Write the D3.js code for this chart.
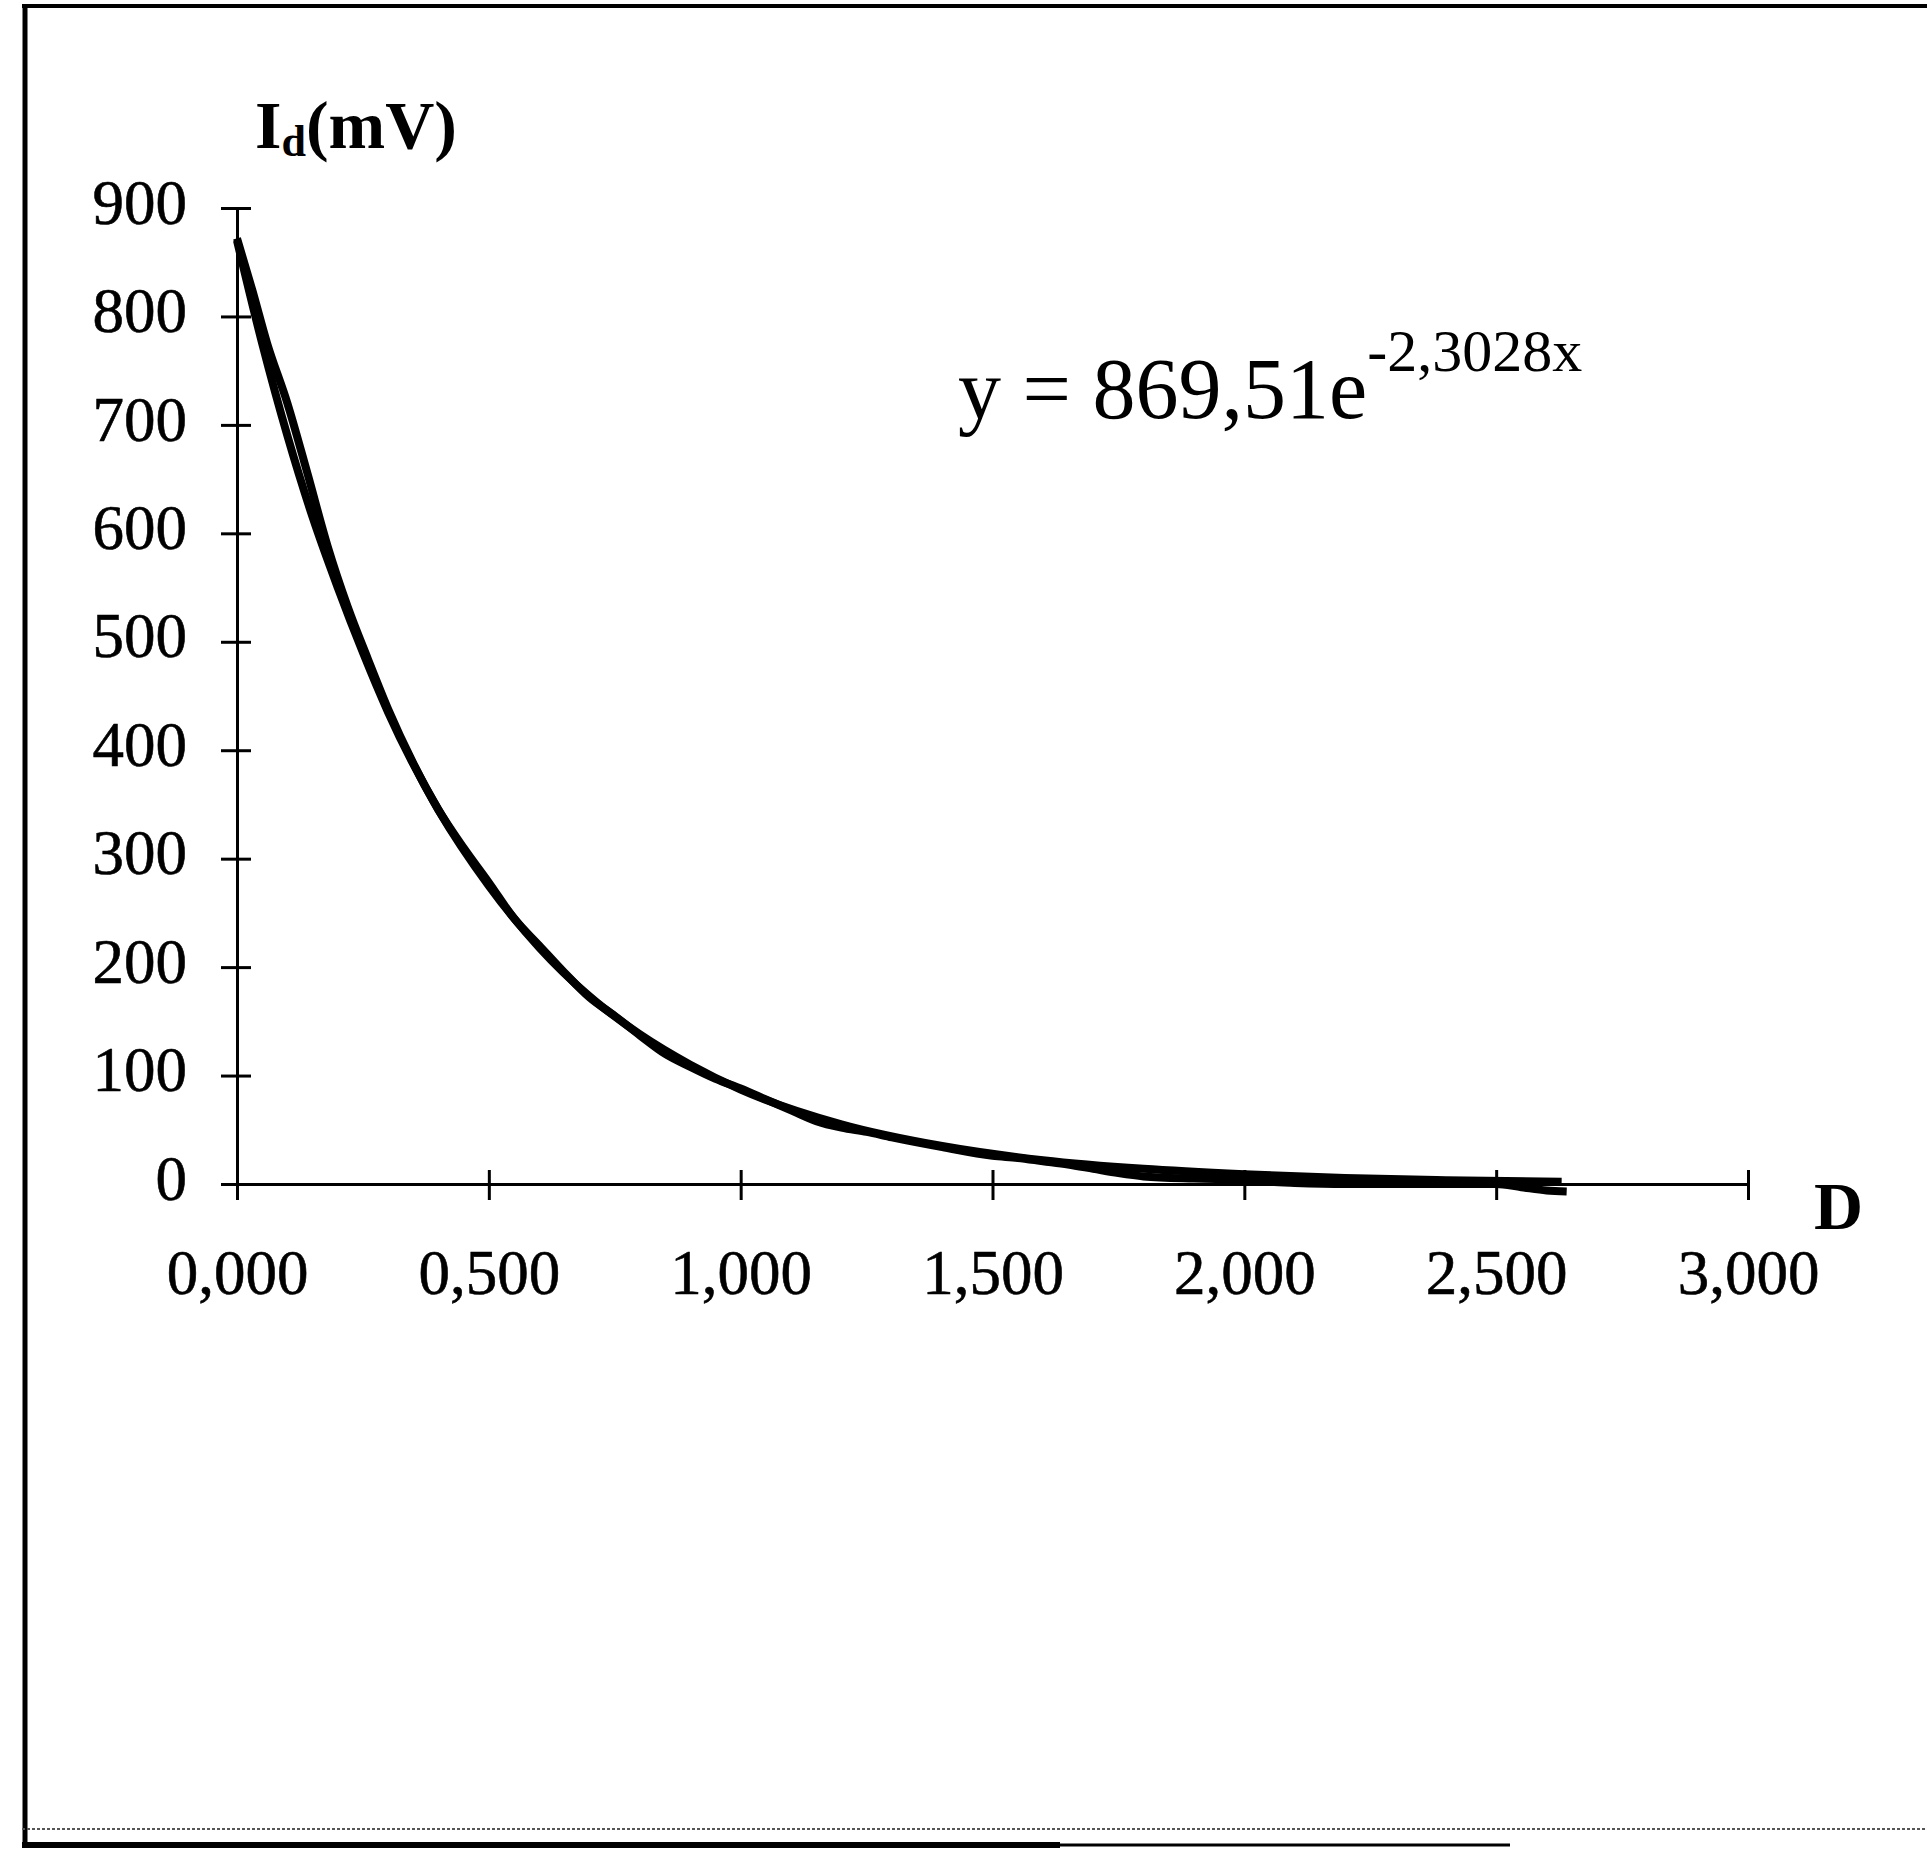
<!DOCTYPE html>
<html>
<head>
<meta charset="utf-8">
<script src="https://cdn.jsdelivr.net/npm/d3@7"></script>
<style>
  body { margin: 0; background: #fff; }
  svg { display: block; font-family: "Liberation Serif", "Times New Roman", serif; }
</style>
</head>
<body>
<svg id="chart" width="1927" height="1853"></svg>
<script>
const measD = [0.00, 0.03, 0.06, 0.10, 0.14, 0.18, 0.22, 0.26, 0.30, 0.35, 0.40, 0.45, 0.50, 0.55, 0.60, 0.65, 0.70, 0.75, 0.80, 0.85, 0.90, 0.95, 1.00, 1.05, 1.10, 1.15, 1.20, 1.25, 1.30, 1.40, 1.50, 1.55, 1.60, 1.65, 1.70, 1.75, 1.80, 1.90, 2.00, 2.05, 2.10, 2.20, 2.30, 2.40, 2.50, 2.55, 2.60, 2.64];
const measI = [872, 825, 775, 720, 655, 588, 532, 484, 438, 388, 345, 310, 278, 245, 220, 195, 172, 155, 137, 120, 108, 97, 88, 78, 68, 58, 52, 48, 43, 34, 26, 24, 21, 18, 14, 10, 7, 5, 4, 2, 1, 0, 0, 0, 0, -3, -6, -7];

// exponential trend line, also
const fitD = [0.00, 0.05, 0.10, 0.15, 0.20, 0.25, 0.30, 0.40, 0.50, 0.60, 0.70, 0.80, 0.90, 1.00, 1.20, 1.40, 1.60, 1.80, 2.00, 2.20, 2.40, 2.63];
const fitI = [870, 775, 690, 615, 550, 490, 435, 345, 275, 218, 173, 138, 110, 87, 55, 35, 22, 14, 9, 5.5, 3.5, 2];

const xTicks = [0, 0.5, 1, 1.5, 2, 2.5, 3];
const yTicks = [0, 100, 200, 300, 400, 500, 600, 700, 800, 900];

const svg = d3.select("#chart");

const x = d3.scaleLinear().domain([0, 3]).range([237, 1748]);
const y = d3.scaleLinear().domain([0, 900]).range([1184, 208]);

// page frame (scanned sheet edges)
svg.append("line").attr("x1", 25).attr("x2", 25).attr("y1", 6).attr("y2", 1848)
    .attr("stroke", "#000").attr("stroke-width", 5);
svg.append("line").attr("x1", 22).attr("x2", 1927).attr("y1", 6).attr("y2", 6)
    .attr("stroke", "#000").attr("stroke-width", 4);
svg.append("line").attr("x1", 22).attr("x2", 1927).attr("y1", 1829).attr("y2", 1829)
    .attr("stroke", "#555").attr("stroke-width", 2).attr("stroke-dasharray", "3,2");
svg.append("line").attr("x1", 22).attr("x2", 1060).attr("y1", 1845).attr("y2", 1845)
    .attr("stroke", "#000").attr("stroke-width", 6);
svg.append("line").attr("x1", 1060).attr("x2", 1510).attr("y1", 1845).attr("y2", 1845)
    .attr("stroke", "#000").attr("stroke-width", 3);

// y axis: ticks cross the line, so draw one each side
const yAxisL = svg.append("g").attr("transform", `translate(${x(0)},0)`)
    .call(d3.axisLeft(y).tickValues(yTicks).tickSize(16).tickSizeOuter(0).tickPadding(34).tickFormat(d3.format("d")));
svg.append("g").attr("transform", `translate(${x(0)},0)`)
    .call(d3.axisRight(y).tickValues(yTicks).tickSize(14).tickSizeOuter(0).tickFormat(""));

// x axis
const xAxisB = svg.append("g").attr("transform", `translate(0,${y(0)})`)
    .call(d3.axisBottom(x).tickValues(xTicks).tickSize(16).tickSizeOuter(0)
        .tickFormat(d => d3.format(".3f")(d).replace(".", ",")));
svg.append("g").attr("transform", `translate(0,${y(0)})`)
    .call(d3.axisTop(x).tickValues(xTicks).tickSize(14).tickSizeOuter(0).tickFormat(""));

svg.selectAll(".domain, .tick line").attr("stroke", "#000").attr("stroke-width", 3);

yAxisL.selectAll("text")
    .attr("font-size", 63).attr("fill", "#000")
    .attr("dy", "0.32em").attr("y", -5)
    .attr("stroke", "#000").attr("stroke-width", 0.6)
    .attr("font-family", "Liberation Serif, serif");

xAxisB.selectAll("text")
    .attr("font-size", 63).attr("fill", "#000")
    .attr("dy", 0).attr("y", 110)
    .attr("stroke", "#000").attr("stroke-width", 0.6)
    .attr("font-family", "Liberation Serif, serif");

// curves
const line = d3.line()
    .x(d => x(d[0]))
    .y(d => y(d[1]))
    .curve(d3.curveMonotoneX);

svg.append("path")
    .datum(fitD.map((d, i) => [d, fitI[i]]))
    .attr("d", line)
    .attr("fill", "none").attr("stroke", "#000").attr("stroke-width", 8);

svg.append("path")
    .datum(measD.map((d, i) => [d, measI[i]]))
    .attr("d", line)
    .attr("fill", "none").attr("stroke", "#000").attr("stroke-width", 8);

// axis titles
const yTitle = svg.append("text").attr("x", 255).attr("y", 148)
    .attr("font-size", 68).attr("font-weight", "bold");
yTitle.append("tspan").text("I");
yTitle.append("tspan").attr("font-size", 44).attr("dy", 8).text("d");
yTitle.append("tspan").attr("dy", -8).text("(mV)");

svg.append("text").attr("x", 1814).attr("y", 1229)
    .attr("font-size", 68).attr("font-weight", "bold").text("D");

// trend equation
const eq = svg.append("text").attr("x", 958).attr("y", 418).attr("font-size", 86);
eq.append("tspan").text("y = 869,51e");
eq.append("tspan").attr("font-size", 60).attr("dy", -47).text("-2,3028x");
</script>
</body>
</html>
